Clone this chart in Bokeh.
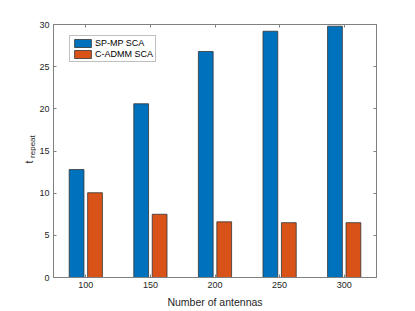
from math import pi
from bokeh.plotting import figure
from bokeh.layouts import row
from bokeh.models import (Range1d, FixedTicker, LinearAxis, Label, Legend,
                          LegendItem, ColumnDataSource)
from bokeh.embed import file_html
from bokeh.resources import INLINE

# ---- data ----
antennas = [100, 150, 200, 250, 300]
sp_mp_sca = [12.8, 20.6, 26.8, 29.2, 29.8]
c_admm_sca = [10.05, 7.5, 6.6, 6.5, 6.5]
series_names = ["SP-MP SCA", "C-ADMM SCA"]
y_ticks = [0, 5, 10, 15, 20, 25, 30]
x_title = "Number of antennas"
y_title_main = "t"
y_title_sub = "repeat"

# ---- style ----
FONT = "Liberation Sans"
BLUE = "#0072BD"
ORANGE = "#D95319"
AX = "#808080"
TXT = "#262626"
GRID = "#ebebeb"
EDGE = "#333333"

group_offset = 7.14
bar_w = 11.43

LEFT_W = 36
H = 311

p = figure(width=415 - LEFT_W, height=H, output_backend="svg", toolbar_location=None,
           x_range=Range1d(75, 325), y_range=Range1d(0, 30),
           min_border_left=53 - LEFT_W, min_border_right=39, min_border_top=24,
           min_border_bottom=34, x_axis_type=None, y_axis_type=None)
p.background_fill_color = "white"
p.border_fill_color = "white"
p.outline_line_color = AX
p.outline_line_width = 1

src1 = ColumnDataSource(dict(x=[a - group_offset for a in antennas], top=sp_mp_sca))
src2 = ColumnDataSource(dict(x=[a + group_offset for a in antennas], top=c_admm_sca))

r1 = p.vbar(x="x", top="top", bottom=0, width=bar_w, source=src1,
            fill_color=BLUE, line_color=EDGE, line_width=0.8)
r2 = p.vbar(x="x", top="top", bottom=0, width=bar_w, source=src2,
            fill_color=ORANGE, line_color=EDGE, line_width=0.8)


def style_axis(ax, labels=True):
    ax.axis_line_color = AX
    ax.major_tick_line_color = AX
    ax.major_tick_in = 3
    ax.major_tick_out = 0
    ax.minor_tick_line_color = None
    ax.major_label_text_font = FONT
    ax.major_label_text_font_size = "9px"
    ax.major_label_text_color = TXT
    if not labels:
        ax.major_label_text_alpha = 0
        ax.major_label_text_font_size = "1px"
        ax.major_label_standoff = 0


xb = LinearAxis(ticker=FixedTicker(ticks=antennas))
style_axis(xb)
xb.major_label_standoff = 4
xb.axis_label = x_title
xb.axis_label_text_font = FONT
xb.axis_label_text_font_size = "10.5px"
xb.axis_label_text_font_style = "normal"
xb.axis_label_text_color = TXT
xb.axis_label_standoff = 5
p.add_layout(xb, "below")

yl = LinearAxis(ticker=FixedTicker(ticks=y_ticks))
style_axis(yl)
yl.major_label_standoff = 4
p.add_layout(yl, "left")

xt = LinearAxis(ticker=FixedTicker(ticks=antennas))
style_axis(xt, labels=False)
p.add_layout(xt, "above")

yr = LinearAxis(ticker=FixedTicker(ticks=y_ticks))
style_axis(yr, labels=False)
p.add_layout(yr, "right")

p.xgrid.ticker = FixedTicker(ticks=antennas)
p.ygrid.ticker = FixedTicker(ticks=y_ticks)
p.grid.grid_line_color = GRID
p.grid.grid_line_width = 1

legend = Legend(items=[LegendItem(label=series_names[0], renderers=[r1]),
                       LegendItem(label=series_names[1], renderers=[r2])],
                location=(16, 215))
legend.label_text_font = FONT
legend.label_text_font_size = "9px"
legend.label_text_color = "black"
legend.glyph_width = 21
legend.glyph_height = 10
legend.label_height = 10
legend.label_standoff = 2
legend.spacing = 1
legend.padding = 2
legend.margin = 0
legend.border_line_color = AX
legend.border_line_width = 1
legend.background_fill_color = "white"
legend.background_fill_alpha = 1
p.add_layout(legend, "center")

# narrow side figure holding the y-axis title (t with subscript "repeat")
side = figure(width=LEFT_W, height=H, output_backend="svg", toolbar_location=None,
              x_range=Range1d(0, LEFT_W), y_range=Range1d(0, H),
              min_border=0, x_axis_type=None, y_axis_type=None)
side.outline_line_color = None
side.grid.visible = False
side.background_fill_color = "white"
side.border_fill_color = "white"
side.add_layout(Label(x=28, y=H - 171, text=y_title_main, angle=pi / 2,
                      text_align="left", text_baseline="alphabetic",
                      text_font=FONT, text_font_size="10.5px", text_color=TXT))
side.add_layout(Label(x=31.5, y=H - 164, text=y_title_sub, angle=pi / 2,
                      text_align="left", text_baseline="alphabetic",
                      text_font=FONT, text_font_size="8px", text_color=TXT))

layout = row(side, p)
open("out.html", "w").write(file_html(layout, INLINE))
